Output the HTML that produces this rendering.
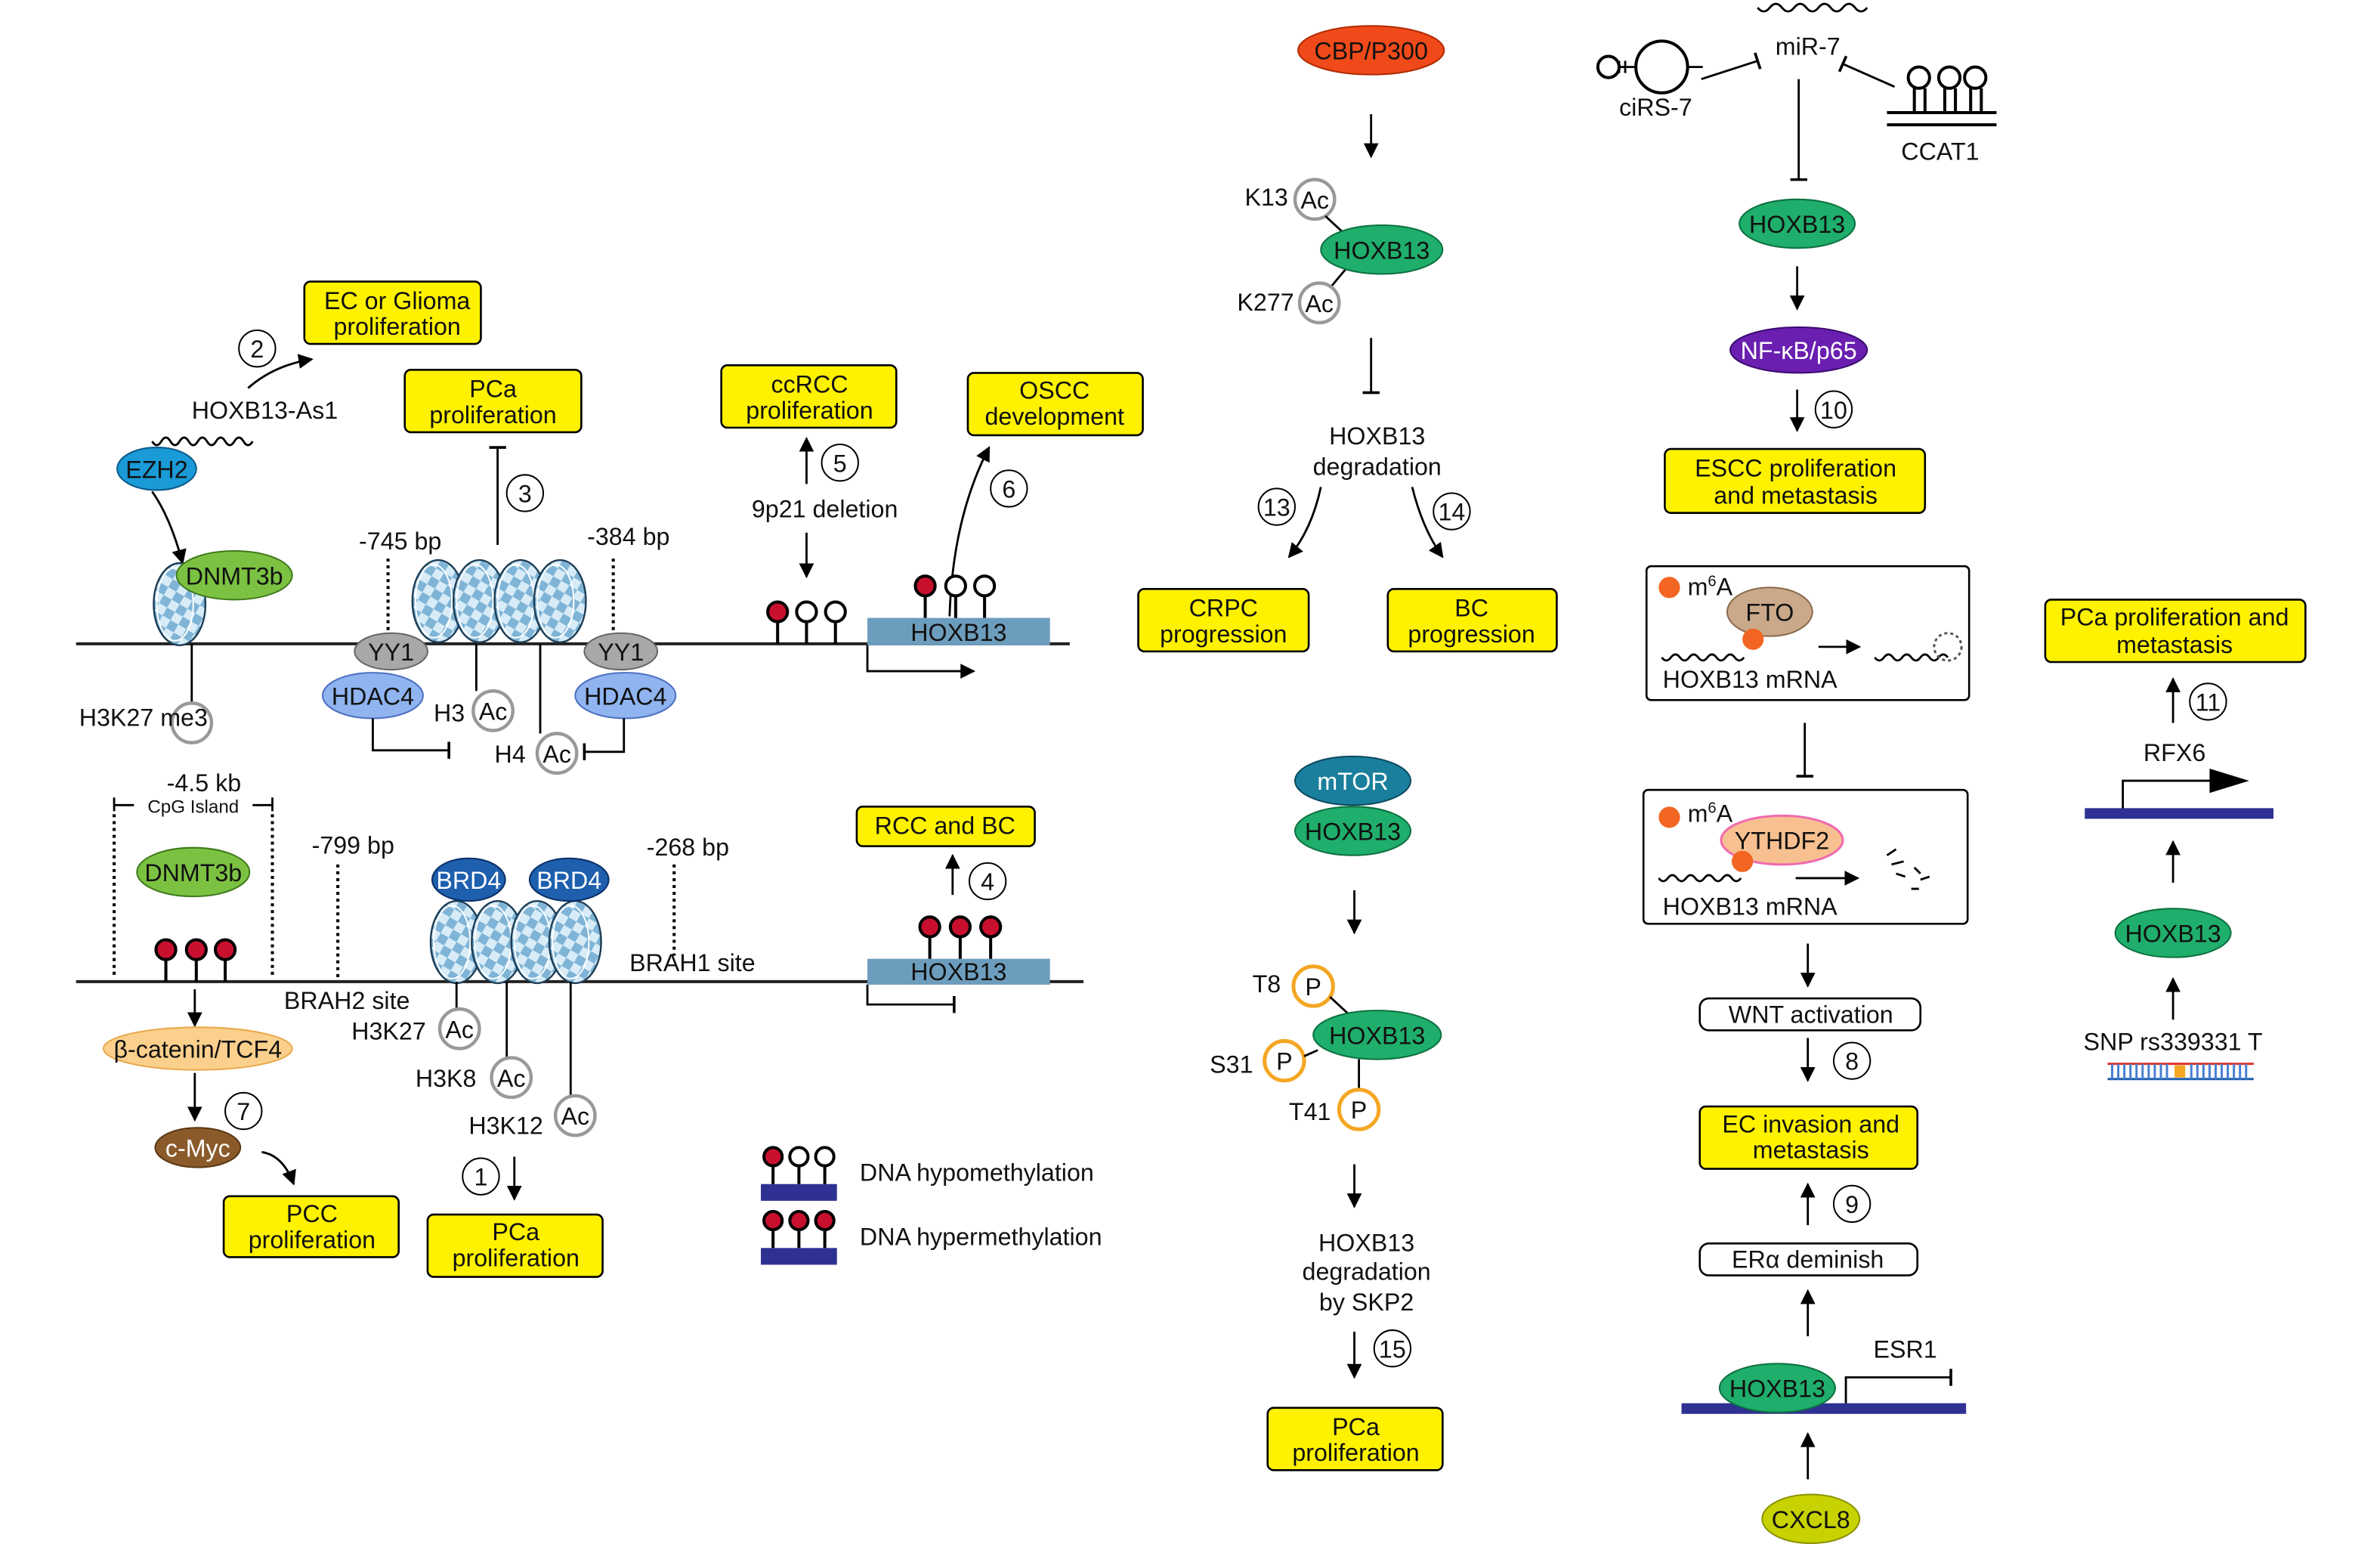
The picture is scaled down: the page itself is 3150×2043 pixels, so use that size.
<!DOCTYPE html>
<html><head><meta charset="utf-8"><style>
html,body{margin:0;padding:0;background:#fff}
svg{display:block}
text{font-family:"Liberation Sans",Arial,sans-serif;font-size:16px;fill:#111}
.c{text-anchor:middle}
.box{fill:#fff200;stroke:#000;stroke-width:1.3}
.ln{stroke:#000;stroke-width:1.4;fill:none}
.dot{stroke:#000;stroke-width:2;stroke-dasharray:2 2.5;fill:none}
</style></head><body>
<svg width="3150" height="2043" viewBox="0 0 1564 1014.5" preserveAspectRatio="none" xmlns="http://www.w3.org/2000/svg">
<defs>
<marker id="a" viewBox="0 0 10 10" refX="9" refY="5" markerWidth="7" markerHeight="7" orient="auto-start-reverse"><path d="M0,0 L10,5 L0,10 z" fill="#000"/></marker>
<marker id="t" viewBox="0 0 10 10" refX="5" refY="5" markerWidth="8" markerHeight="8" orient="auto"><path d="M5,0 L5,10" stroke="#000" stroke-width="1.6"/></marker>
<pattern id="chk" width="12" height="12" patternUnits="userSpaceOnUse" patternTransform="rotate(30)"><rect width="12" height="12" fill="#d8ecf8"/><rect width="6" height="6" fill="#7fb4d6"/><rect x="6" y="6" width="6" height="6" fill="#7fb4d6"/></pattern>
<g id="nuc"><ellipse cx="0" cy="0" rx="17" ry="27" fill="url(#chk)" stroke="#1d3d55" stroke-width="1.2"/><ellipse cx="-3" cy="0" rx="12" ry="24" fill="none" stroke="#fff" stroke-width="1"/></g>
<g id="ac"><circle r="13" fill="#fff" stroke="#999" stroke-width="2.2"/></g>
<g id="p"><circle r="13" fill="#fff" stroke="#f5a623" stroke-width="2.5"/></g>
</defs>

<line x1="50" y1="423" x2="703" y2="423" stroke="#222" stroke-width="2"/>
<rect class="box" x="200" y="185" width="116" height="41" rx="4"/>
<text class="c" x="261" y="203">EC or Glioma</text><text class="c" x="261" y="220">proliferation</text>
<circle cx="169" cy="229" r="12" fill="#fff" stroke="#000"/><text class="c" x="169" y="235">2</text>
<path class="ln" d="M163,255 Q180,240 205,236" marker-end="url(#a)"/>
<text class="c" x="174" y="275">HOXB13-As1</text>
<path class="ln" stroke-width="2.5" d="M100,290 q3,5 6,0 t6,0 t6,0 t6,0 t6,0 t6,0 t6,0 t6,0 t6,0 t6,0 t6,0"/>
<ellipse cx="103" cy="308" rx="26" ry="14" fill="#1a9ad6" stroke="#0c5b8c"/><text class="c" x="103" y="314">EZH2</text>
<path class="ln" stroke-width="1.8" d="M100,323 Q112,340 120,370" marker-end="url(#a)"/>
<use href="#nuc" x="118" y="397"/>
<ellipse cx="154" cy="378" rx="38" ry="16" fill="#7cc242" stroke="#3f7a1c"/><text class="c" x="154" y="384">DNMT3b</text>
<line class="ln" x1="126" y1="423" x2="126" y2="462"/>
<circle cx="126" cy="475" r="13" fill="#fff" stroke="#999" stroke-width="2.2"/>
<text x="52" y="477">H3K27 me3</text>

<rect class="box" x="266" y="243" width="116" height="41" rx="4"/>
<text class="c" x="324" y="261">PCa</text><text class="c" x="324" y="278">proliferation</text>
<line class="ln" x1="327" y1="358" x2="327" y2="294" marker-end="url(#t)"/>
<circle cx="345" cy="324" r="12" fill="#fff" stroke="#000"/><text class="c" x="345" y="330">3</text>
<text class="c" x="263" y="361">-745 bp</text><text class="c" x="413" y="358">-384 bp</text>
<line class="dot" x1="255" y1="367" x2="255" y2="420"/><line class="dot" x1="403" y1="367" x2="403" y2="420"/>
<use href="#nuc" x="288" y="395"/><use href="#nuc" x="315" y="395"/><use href="#nuc" x="342" y="395"/><use href="#nuc" x="368" y="395"/>
<ellipse cx="257" cy="428" rx="24" ry="12" fill="#a8a8a8" stroke="#666"/><text class="c" x="257" y="434">YY1</text>
<ellipse cx="245" cy="457" rx="33" ry="15" fill="#8fb4f0" stroke="#4c6fc0"/><text class="c" x="245" y="463">HDAC4</text>
<ellipse cx="408" cy="428" rx="24" ry="12" fill="#a8a8a8" stroke="#666"/><text class="c" x="408" y="434">YY1</text>
<ellipse cx="411" cy="457" rx="33" ry="15" fill="#8fb4f0" stroke="#4c6fc0"/><text class="c" x="411" y="463">HDAC4</text>
<text x="285" y="474">H3</text><use href="#ac" x="324" y="467"/><text class="c" x="324" y="473">Ac</text>
<text x="325" y="501">H4</text><use href="#ac" x="366" y="495"/><text class="c" x="366" y="501">Ac</text>
<line class="ln" x1="313" y1="423" x2="313" y2="454"/><line class="ln" x1="355" y1="423" x2="355" y2="482"/>
<path class="ln" d="M245,472 V493 H295" marker-end="url(#t)"/>
<path class="ln" d="M410,472 V494 H384" marker-end="url(#t)"/>

<rect class="box" x="474" y="240" width="115" height="41" rx="4"/>
<text class="c" x="532" y="258">ccRCC</text><text class="c" x="532" y="275">proliferation</text>
<line class="ln" x1="530" y1="318" x2="530" y2="288" marker-end="url(#a)"/>
<circle cx="552" cy="304" r="12" fill="#fff" stroke="#000"/><text class="c" x="552" y="310">5</text>
<text class="c" x="542" y="340">9p21 deletion</text>
<line class="ln" x1="530" y1="350" x2="530" y2="379" marker-end="url(#a)"/>
<g stroke="#000" stroke-width="2"><line x1="511" y1="423" x2="511" y2="407"/><line x1="530" y1="423" x2="530" y2="407"/><line x1="549" y1="423" x2="549" y2="407"/></g>
<circle cx="511" cy="402" r="6.5" fill="#c8102e" stroke="#000" stroke-width="2"/><circle cx="530" cy="402" r="6.5" fill="#fff" stroke="#000" stroke-width="2"/><circle cx="549" cy="402" r="6.5" fill="#fff" stroke="#000" stroke-width="2"/>

<rect class="box" x="636" y="245" width="115" height="41" rx="4"/>
<text class="c" x="693" y="262">OSCC</text><text class="c" x="693" y="279">development</text>
<path class="ln" stroke-width="1.8" d="M624,405 Q626,340 650,294" marker-end="url(#a)"/>
<circle cx="663" cy="321" r="12" fill="#fff" stroke="#000"/><text class="c" x="663" y="327">6</text>
<rect x="570" y="406" width="120" height="18" fill="#6d9dbd"/><text class="c" x="630" y="421">HOXB13</text>
<g stroke="#000" stroke-width="2"><line x1="608" y1="406" x2="608" y2="390"/><line x1="628" y1="406" x2="628" y2="390"/><line x1="647" y1="406" x2="647" y2="390"/></g>
<circle cx="608" cy="385" r="6.5" fill="#c8102e" stroke="#000" stroke-width="2"/><circle cx="628" cy="385" r="6.5" fill="#fff" stroke="#000" stroke-width="2"/><circle cx="647" cy="385" r="6.5" fill="#fff" stroke="#000" stroke-width="2"/>
<path class="ln" stroke-width="1.8" d="M570,424 V441 H640" marker-end="url(#a)"/>

<line x1="50" y1="645" x2="712" y2="645" stroke="#222" stroke-width="2"/>
<text class="c" x="134" y="520">-4.5 kb</text>
<path class="ln" d="M75,524 V533 M75,529 H88 M166,529 H179 M179,524 V533"/>
<text class="c" x="127" y="534" style="font-size:12px">CpG Island</text>
<line class="dot" x1="75" y1="535" x2="75" y2="643"/><line class="dot" x1="179" y1="535" x2="179" y2="643"/>
<ellipse cx="127" cy="573" rx="37" ry="16" fill="#7cc242" stroke="#3f7a1c"/><text class="c" x="127" y="579">DNMT3b</text>
<g stroke="#000" stroke-width="2"><line x1="109" y1="645" x2="109" y2="629"/><line x1="129" y1="645" x2="129" y2="629"/><line x1="148" y1="645" x2="148" y2="629"/></g>
<circle cx="109" cy="624" r="6.5" fill="#c8102e" stroke="#000" stroke-width="2"/><circle cx="129" cy="624" r="6.5" fill="#c8102e" stroke="#000" stroke-width="2"/><circle cx="148" cy="624" r="6.5" fill="#c8102e" stroke="#000" stroke-width="2"/>
<text class="c" x="232" y="561">-799 bp</text><line class="dot" x1="222" y1="568" x2="222" y2="643"/>
<text class="c" x="228" y="663">BRAH2 site</text>
<text class="c" x="452" y="562">-268 bp</text><line class="dot" x1="443" y1="568" x2="443" y2="628"/>
<text class="c" x="455" y="638">BRAH1 site</text>
<use href="#nuc" x="300" y="619"/><use href="#nuc" x="327" y="619"/><use href="#nuc" x="353" y="619"/><use href="#nuc" x="378" y="619"/>
<ellipse cx="308" cy="578" rx="24" ry="14" fill="#1e5fae" stroke="#0b2f66"/><text class="c" x="308" y="584" style="fill:#fff">BRD4</text>
<ellipse cx="374" cy="578" rx="26" ry="14" fill="#1e5fae" stroke="#0b2f66"/><text class="c" x="374" y="584" style="fill:#fff">BRD4</text>
<line class="ln" x1="300" y1="645" x2="300" y2="663"/><line class="ln" x1="333" y1="645" x2="333" y2="695"/><line class="ln" x1="375" y1="645" x2="375" y2="720"/>
<text x="231" y="683">H3K27</text><use href="#ac" x="302" y="676"/><text class="c" x="302" y="682">Ac</text>
<text x="273" y="714">H3K8</text><use href="#ac" x="336" y="708"/><text class="c" x="336" y="714">Ac</text>
<text x="308" y="745">H3K12</text><use href="#ac" x="378" y="733"/><text class="c" x="378" y="739">Ac</text>

<rect class="box" x="563" y="530" width="117" height="26" rx="4"/><text class="c" x="621" y="548">RCC and BC</text>
<line class="ln" x1="626" y1="588" x2="626" y2="562" marker-end="url(#a)"/>
<circle cx="649" cy="579" r="12" fill="#fff" stroke="#000"/><text class="c" x="649" y="585">4</text>
<rect x="570" y="630" width="120" height="17" fill="#6d9dbd"/><text class="c" x="630" y="644">HOXB13</text>
<g stroke="#000" stroke-width="2"><line x1="611" y1="630" x2="611" y2="614"/><line x1="631" y1="630" x2="631" y2="614"/><line x1="651" y1="630" x2="651" y2="614"/></g>
<circle cx="611" cy="609" r="6.5" fill="#c8102e" stroke="#000" stroke-width="2"/><circle cx="631" cy="609" r="6.5" fill="#c8102e" stroke="#000" stroke-width="2"/><circle cx="651" cy="609" r="6.5" fill="#c8102e" stroke="#000" stroke-width="2"/>
<path class="ln" stroke-width="1.8" d="M570,647 V660 H627" marker-end="url(#t)"/>

<line class="ln" x1="128" y1="650" x2="128" y2="674" marker-end="url(#a)"/>
<ellipse cx="130" cy="689" rx="62" ry="14" fill="#fbd08c" stroke="#e8a84a"/><text class="c" x="130" y="695">β-catenin/TCF4</text>
<line class="ln" x1="128" y1="705" x2="128" y2="736" marker-end="url(#a)"/>
<circle cx="160" cy="730" r="12" fill="#fff" stroke="#000"/><text class="c" x="160" y="736">7</text>
<ellipse cx="130" cy="754" rx="28" ry="13" fill="#8b5a2b" stroke="#5a3713"/><text class="c" x="130" y="760" style="fill:#fff">c-Myc</text>
<path class="ln" stroke-width="1.8" d="M172,757 Q186,759 193,778" marker-end="url(#a)"/>
<rect class="box" x="147" y="786" width="115" height="40" rx="4"/>
<text class="c" x="205" y="803">PCC</text><text class="c" x="205" y="820">proliferation</text>
<circle cx="316" cy="773" r="12" fill="#fff" stroke="#000"/><text class="c" x="316" y="779">1</text>
<line class="ln" x1="338" y1="760" x2="338" y2="788" marker-end="url(#a)"/>
<rect class="box" x="281" y="798" width="115" height="41" rx="4"/>
<text class="c" x="339" y="815">PCa</text><text class="c" x="339" y="832">proliferation</text>

<rect x="500" y="778" width="50" height="11" fill="#2e3192"/>
<g stroke="#000" stroke-width="2"><line x1="508" y1="778" x2="508" y2="765"/><line x1="525" y1="778" x2="525" y2="765"/><line x1="542" y1="778" x2="542" y2="765"/></g>
<circle cx="508" cy="760" r="6" fill="#c8102e" stroke="#000" stroke-width="2"/><circle cx="525" cy="760" r="6" fill="#fff" stroke="#000" stroke-width="2"/><circle cx="542" cy="760" r="6" fill="#fff" stroke="#000" stroke-width="2"/>
<text x="565" y="776">DNA hypomethylation</text>
<rect x="500" y="820" width="50" height="11" fill="#2e3192"/>
<g stroke="#000" stroke-width="2"><line x1="508" y1="820" x2="508" y2="807"/><line x1="525" y1="820" x2="525" y2="807"/><line x1="542" y1="820" x2="542" y2="807"/></g>
<circle cx="508" cy="802" r="6" fill="#c8102e" stroke="#000" stroke-width="2"/><circle cx="525" cy="802" r="6" fill="#c8102e" stroke="#000" stroke-width="2"/><circle cx="542" cy="802" r="6" fill="#c8102e" stroke="#000" stroke-width="2"/>
<text x="565" y="818">DNA hypermethylation</text>

<ellipse cx="901" cy="33" rx="48" ry="16" fill="#f04a1a" stroke="#b02a00"/><text class="c" x="901" y="39">CBP/P300</text>
<line class="ln" x1="901" y1="75" x2="901" y2="103" marker-end="url(#a)"/>
<text x="818" y="135">K13</text><use href="#ac" x="864" y="131"/><text class="c" x="864" y="137">Ac</text>
<line class="ln" x1="871" y1="142" x2="885" y2="155"/><line class="ln" x1="885" y1="176" x2="875" y2="188"/>
<ellipse cx="908" cy="164" rx="40" ry="16" fill="#1fae6b" stroke="#0d7040"/><text class="c" x="908" y="170">HOXB13</text>
<text x="813" y="204">K277</text><use href="#ac" x="867" y="199"/><text class="c" x="867" y="205">Ac</text>
<line class="ln" x1="901" y1="222" x2="901" y2="258" marker-end="url(#t)"/>
<text class="c" x="905" y="292">HOXB13</text><text class="c" x="905" y="312">degradation</text>
<path class="ln" stroke-width="1.8" d="M868,320 Q862,348 847,366" marker-end="url(#a)"/>
<path class="ln" stroke-width="1.8" d="M928,320 Q935,348 948,366" marker-end="url(#a)"/>
<circle cx="839" cy="333" r="12" fill="#fff" stroke="#000"/><text class="c" x="839" y="339">13</text>
<circle cx="954" cy="336" r="12" fill="#fff" stroke="#000"/><text class="c" x="954" y="342">14</text>
<rect class="box" x="748" y="387" width="112" height="41" rx="4"/><text class="c" x="804" y="405">CRPC</text><text class="c" x="804" y="422">progression</text>
<rect class="box" x="912" y="387" width="111" height="41" rx="4"/><text class="c" x="967" y="405">BC</text><text class="c" x="967" y="422">progression</text>

<ellipse cx="889" cy="546" rx="38" ry="16" fill="#1fae6b" stroke="#0d7040"/><text class="c" x="889" y="552">HOXB13</text>
<ellipse cx="889" cy="513" rx="38" ry="16" fill="#1a7f9c" stroke="#0d4a60"/><text class="c" x="889" y="519" style="fill:#fff">mTOR</text>
<line class="ln" x1="890" y1="585" x2="890" y2="613" marker-end="url(#a)"/>
<text x="823" y="652">T8</text><use href="#p" x="863" y="648"/><text class="c" x="863" y="654">P</text>
<line class="ln" x1="874" y1="655" x2="888" y2="668"/>
<ellipse cx="905" cy="680" rx="42" ry="16" fill="#1fae6b" stroke="#0d7040"/><text class="c" x="905" y="686">HOXB13</text>
<text x="795" y="705">S31</text><use href="#p" x="844" y="697"/><text class="c" x="844" y="703">P</text>
<line class="ln" x1="857" y1="694" x2="866" y2="690"/><line class="ln" x1="893" y1="696" x2="893" y2="716"/>
<text x="847" y="736">T41</text><use href="#p" x="893" y="729"/><text class="c" x="893" y="735">P</text>
<line class="ln" x1="890" y1="765" x2="890" y2="793" marker-end="url(#a)"/>
<text class="c" x="898" y="822">HOXB13</text><text class="c" x="898" y="841">degradation</text><text class="c" x="898" y="861">by SKP2</text>
<line class="ln" x1="890" y1="875" x2="890" y2="905" marker-end="url(#a)"/>
<circle cx="915" cy="886" r="12" fill="#fff" stroke="#000"/><text class="c" x="915" y="892">15</text>
<rect class="box" x="833" y="925" width="115" height="41" rx="4"/><text class="c" x="891" y="943">PCa</text><text class="c" x="891" y="960">proliferation</text>

<circle cx="1092" cy="44" r="17" fill="#fff" stroke="#000" stroke-width="2"/>
<path class="ln" stroke-width="2" d="M1075,44 H1064 M1068,40 V48 M1064,40 V48"/><circle cx="1057" cy="44" r="7" fill="#fff" stroke="#000" stroke-width="2"/>
<path class="ln" stroke-width="2" d="M1109,44 h10"/>
<text class="c" x="1088" y="76">ciRS-7</text>
<line class="ln" x1="1118" y1="52" x2="1155" y2="40" marker-end="url(#t)"/>
<path class="ln" stroke-width="2.5" d="M1155,5 q4,5 8,0 t8,0 t8,0 t8,0 t8,0 t8,0 t8,0 t8,0 t8,0"/>
<text class="c" x="1188" y="36">miR-7</text>
<line class="ln" x1="1245" y1="57" x2="1211" y2="42" marker-end="url(#t)"/>
<g stroke="#000" stroke-width="2" fill="#fff">
<path d="M1240,82 H1312 M1240,74 H1312" fill="none"/>
<line x1="1258" y1="74" x2="1258" y2="58"/><line x1="1265" y1="74" x2="1265" y2="58"/>
<line x1="1278" y1="74" x2="1278" y2="58"/><line x1="1285" y1="74" x2="1285" y2="58"/>
<line x1="1295" y1="74" x2="1295" y2="58"/><line x1="1302" y1="74" x2="1302" y2="58"/>
<circle cx="1261" cy="51" r="7"/><circle cx="1281" cy="51" r="7"/><circle cx="1298" cy="51" r="7"/>
</g>
<text class="c" x="1275" y="105">CCAT1</text>
<line class="ln" x1="1182" y1="52" x2="1182" y2="118" marker-end="url(#t)"/>
<ellipse cx="1181" cy="147" rx="38" ry="16" fill="#1fae6b" stroke="#0d7040"/><text class="c" x="1181" y="153">HOXB13</text>
<line class="ln" x1="1181" y1="175" x2="1181" y2="203" marker-end="url(#a)"/>
<ellipse cx="1182" cy="230" rx="45" ry="15" fill="#6a1fb0" stroke="#3c0a70"/><text class="c" x="1182" y="236" style="fill:#fff">NF-κB/p65</text>
<line class="ln" x1="1181" y1="256" x2="1181" y2="283" marker-end="url(#a)"/>
<circle cx="1205" cy="269" r="12" fill="#fff" stroke="#000"/><text class="c" x="1205" y="275">10</text>
<rect class="box" x="1094" y="295" width="171" height="42" rx="4"/><text class="c" x="1180" y="313">ESCC proliferation</text><text class="c" x="1180" y="331">and metastasis</text>

<rect x="1082" y="372" width="212" height="88" fill="#fff" stroke="#000" stroke-width="1.3" rx="3"/>
<circle cx="1097" cy="386" r="7" fill="#f26522"/><text x="1109" y="391">m<tspan dy="-6" style="font-size:10px">6</tspan><tspan dy="6">A</tspan></text>
<ellipse cx="1163" cy="402" rx="28" ry="16" fill="#c9a98a" stroke="#8a6a4a"/><text class="c" x="1163" y="408">FTO</text>
<circle cx="1152" cy="420" r="7" fill="#f26522"/>
<path class="ln" stroke-width="2.5" d="M1092,432 q3,4 6,0 t6,0 t6,0 t6,0 t6,0 t6,0 t6,0 t6,0 t6,0"/>
<line class="ln" x1="1195" y1="425" x2="1222" y2="425" marker-end="url(#a)"/>
<path class="ln" stroke-width="2.5" d="M1232,432 q3,4 6,0 t6,0 t6,0 t6,0 t6,0 t6,0 t6,0 t6,0"/>
<circle cx="1280" cy="425" r="9" fill="none" stroke="#555" stroke-width="1.5" stroke-dasharray="2 2"/>
<text class="c" x="1150" y="452">HOXB13 mRNA</text>
<line class="ln" x1="1186" y1="475" x2="1186" y2="510" marker-end="url(#t)"/>

<rect x="1080" y="519" width="213" height="88" fill="#fff" stroke="#000" stroke-width="1.3" rx="3"/>
<circle cx="1097" cy="537" r="7" fill="#f26522"/><text x="1109" y="540">m<tspan dy="-6" style="font-size:10px">6</tspan><tspan dy="6">A</tspan></text>
<ellipse cx="1171" cy="552" rx="40" ry="16" fill="#f8c090" stroke="#f06ab0" stroke-width="1.5"/><text class="c" x="1171" y="558">YTHDF2</text>
<circle cx="1145" cy="566" r="7" fill="#f26522"/>
<path class="ln" stroke-width="2.5" d="M1090,577 q3,4 6,0 t6,0 t6,0 t6,0 t6,0 t6,0 t6,0 t6,0 t6,0"/>
<line class="ln" x1="1180" y1="577" x2="1221" y2="577" marker-end="url(#a)"/>
<path class="ln" stroke-width="2" d="M1240,562 l6,-4 M1243,568 l8,-2 M1246,574 l6,2 M1258,570 l4,4 M1262,578 l6,-2 M1256,584 l5,0"/>
<text class="c" x="1150" y="601">HOXB13 mRNA</text>
<line class="ln" x1="1188" y1="620" x2="1188" y2="648" marker-end="url(#a)"/>
<rect x="1117" y="656" width="145" height="21" rx="6" fill="#fff" stroke="#000" stroke-width="1.3"/><text class="c" x="1190" y="672">WNT activation</text>
<line class="ln" x1="1188" y1="682" x2="1188" y2="710" marker-end="url(#a)"/>
<circle cx="1217" cy="697" r="12" fill="#fff" stroke="#000"/><text class="c" x="1217" y="703">8</text>
<rect class="box" x="1117" y="727" width="143" height="41" rx="4"/><text class="c" x="1190" y="744">EC invasion and</text><text class="c" x="1190" y="761">metastasis</text>
<line class="ln" x1="1188" y1="805" x2="1188" y2="778" marker-end="url(#a)"/>
<circle cx="1217" cy="791" r="12" fill="#fff" stroke="#000"/><text class="c" x="1217" y="797">9</text>
<rect x="1117" y="817" width="143" height="21" rx="6" fill="#fff" stroke="#000" stroke-width="1.3"/><text class="c" x="1188" y="833">ERα deminish</text>
<line class="ln" x1="1188" y1="878" x2="1188" y2="848" marker-end="url(#a)"/>
<rect x="1105" y="922" width="187" height="7" fill="#2e3192"/>
<ellipse cx="1168" cy="912" rx="38" ry="16" fill="#1fae6b" stroke="#0d7040"/><text class="c" x="1168" y="918">HOXB13</text>
<text class="c" x="1252" y="892">ESR1</text>
<path class="ln" d="M1213,922 V905 H1282" marker-end="url(#t)"/>
<line class="ln" x1="1188" y1="972" x2="1188" y2="942" marker-end="url(#a)"/>
<ellipse cx="1190" cy="998" rx="32" ry="16" fill="#c8d200" stroke="#8a9000"/><text class="c" x="1190" y="1004">CXCL8</text>

<rect class="box" x="1344" y="394" width="171" height="41" rx="4"/><text class="c" x="1429" y="411">PCa proliferation and</text><text class="c" x="1429" y="429">metastasis</text>
<line class="ln" x1="1428" y1="475" x2="1428" y2="446" marker-end="url(#a)"/>
<circle cx="1451" cy="461" r="12" fill="#fff" stroke="#000"/><text class="c" x="1451" y="467">11</text>
<text class="c" x="1429" y="500">RFX6</text>
<path class="ln" stroke-width="1.5" d="M1395,532 V513 H1455"/><path d="M1452,505 L1478,513 L1452,521 z" fill="#000"/>
<rect x="1370" y="531" width="124" height="7" fill="#2e3192"/>
<line class="ln" x1="1428" y1="580" x2="1428" y2="553" marker-end="url(#a)"/>
<ellipse cx="1428" cy="613" rx="38" ry="16" fill="#1fae6b" stroke="#0d7040"/><text class="c" x="1428" y="619">HOXB13</text>
<line class="ln" x1="1428" y1="670" x2="1428" y2="643" marker-end="url(#a)"/>
<text class="c" x="1428" y="690">SNP rs339331 T</text>
<g stroke-width="1.5">
<line x1="1385" y1="699" x2="1481" y2="699" stroke="#e0332b"/><line x1="1385" y1="709" x2="1481" y2="709" stroke="#1e5fae"/>
<path d="M1388,699 V709 M1392,699 V709 M1396,699 V709 M1400,699 V709 M1404,699 V709 M1408,699 V709 M1412,699 V709 M1416,699 V709 M1420,699 V709 M1424,699 V709 M1440,699 V709 M1444,699 V709 M1448,699 V709 M1452,699 V709 M1456,699 V709 M1460,699 V709 M1464,699 V709 M1468,699 V709 M1472,699 V709 M1476,699 V709" stroke="#4a7fd0"/>
<rect x="1429" y="700" width="7" height="8" fill="#f5a623" stroke="none"/>
</g>
</svg>
</body></html>
